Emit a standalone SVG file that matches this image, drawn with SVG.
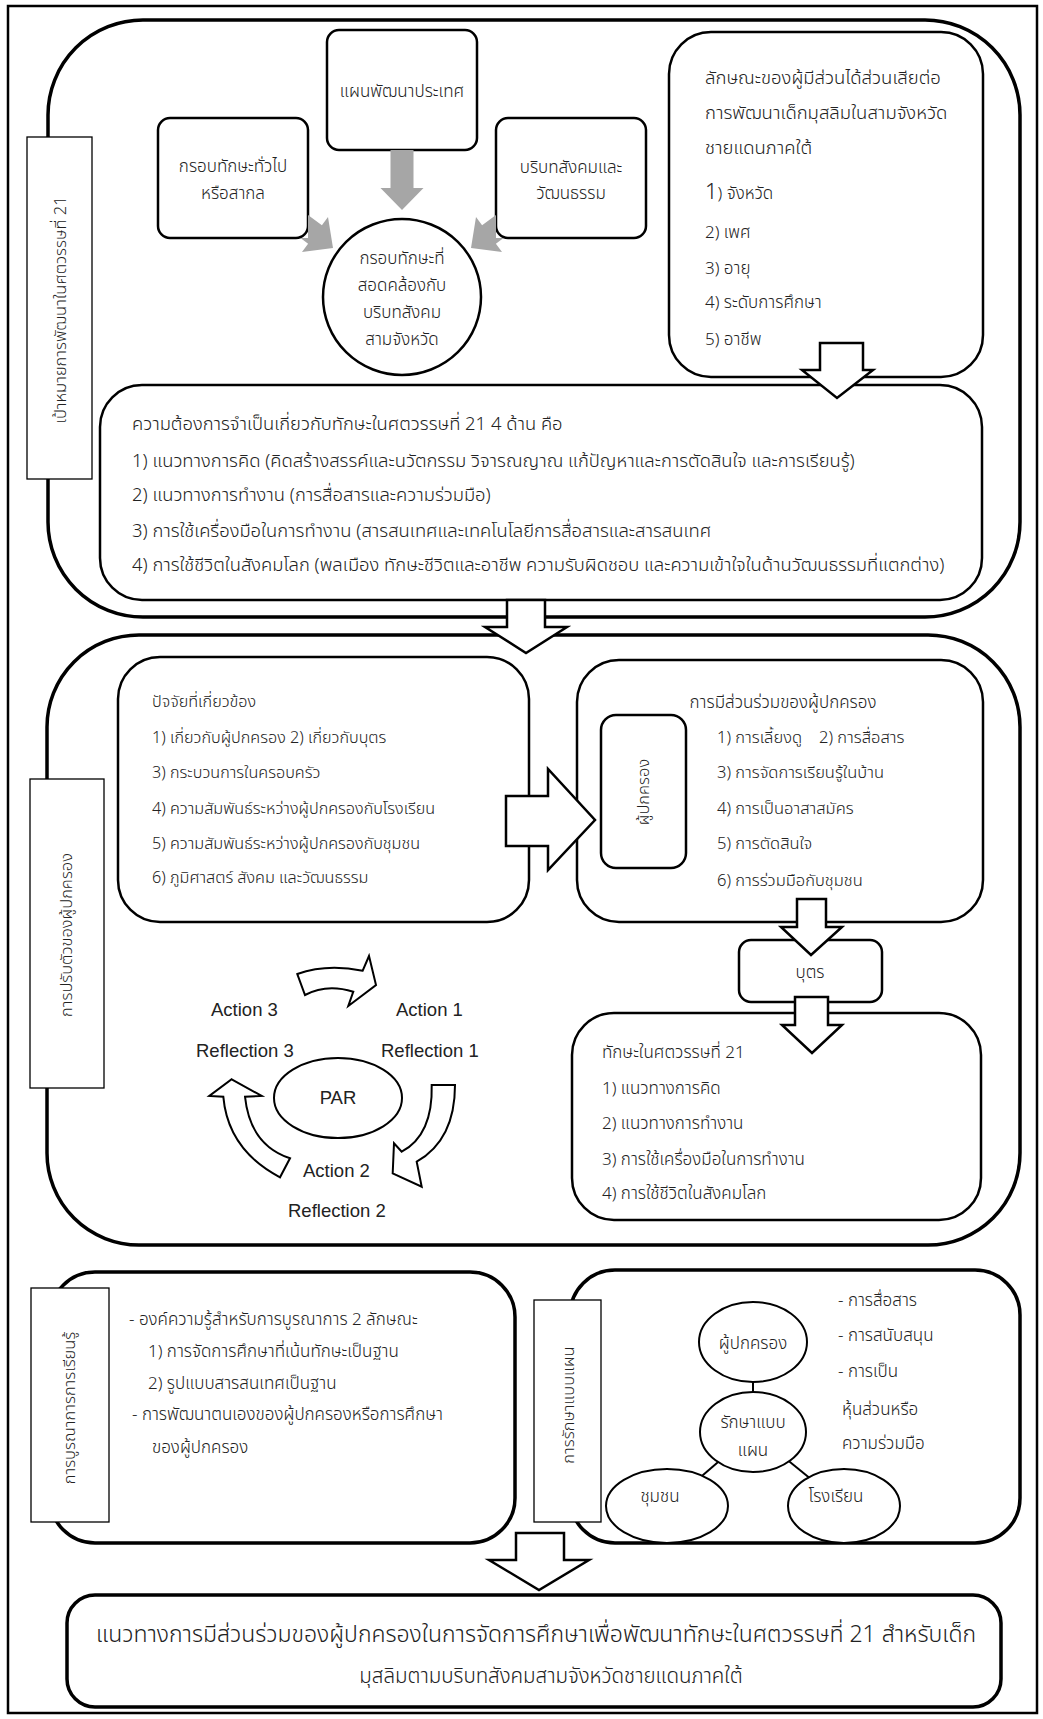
<svg xmlns="http://www.w3.org/2000/svg" width="1043" height="1719" viewBox="0 0 1043 1719">
<style>
.frame{fill:none;stroke:#000;stroke-width:2.5}
.big{fill:#fff;stroke:#000;stroke-width:3.5}
.box{fill:#fff;stroke:#000;stroke-width:2.5}
.lbl{fill:#fff;stroke:#000;stroke-width:1.3}
.arw{fill:#fff;stroke:#000;stroke-width:2.5;stroke-linejoin:miter}
.cyc{fill:#fff;stroke:#000;stroke-width:2}
.gray{fill:#a6a6a6;stroke:none}
.t{font-family:"Noto Sans Thai","Noto Sans Thai UI","Noto Sans","DejaVu Sans",sans-serif;font-size:17px;font-weight:300;fill:#222}
.c{text-anchor:middle}
.v{font-size:16.5px}
.sk{font-size:18.5px}
.nd{font-size:18.4px}
.fc{font-size:16.2px}
.pt{font-size:16.5px}
.en{font-family:"Liberation Sans",Arial,sans-serif;font-size:18.5px;fill:#222}
.fin{font-size:23px}
.fin2{font-size:20.5px}
</style>
<rect width="1043" height="1719" fill="#fff"/>
<rect class="frame" x="8" y="6" width="1029" height="1707"/>

<g id="section-goals">
<rect class="big" x="48" y="20" width="972" height="597" rx="95" ry="95"/>
</g>
<g id="node-general">
<rect class="box" x="158" y="118" width="150" height="120" rx="12"/>
<text class="t c" x="233" y="172">กรอบทักษะทั่วไป</text>
<text class="t c" x="233" y="199">หรือสากล</text>
</g>
<g id="node-plan">
<rect class="box" x="327" y="30" width="150" height="120" rx="12"/>
<text class="t c" x="402" y="97" font-size="18">แผนพัฒนาประเทศ</text>
</g>
<g id="node-context">
<rect class="box" x="496" y="118" width="150" height="120" rx="12"/>
<text class="t c" x="571" y="173">บริบทสังคมและ</text>
<text class="t c" x="571" y="199">วัฒนธรรม</text>
</g>
<g id="node-framework">
<ellipse class="box" cx="402" cy="297" rx="79" ry="78"/>
<text class="t c" x="402" y="264">กรอบทักษะที่</text>
<text class="t c" x="402" y="291">สอดคล้องกับ</text>
<text class="t c" x="402" y="318">บริบทสังคม</text>
<text class="t c" x="402" y="345">สามจังหวัด</text>
</g>
<g id="node-stakeholders">
<rect class="box" x="669" y="32" width="314" height="345" rx="42"/>
<text class="t sk" x="705" y="84">ลักษณะของผู้มีส่วนได้ส่วนเสียต่อ</text>
<text class="t sk" x="705" y="119">การพัฒนาเด็กมุสลิมในสามจังหวัด</text>
<text class="t sk" x="705" y="154">ชายแดนภาคใต้</text>
<text class="t" x="705" y="199"><tspan font-size="22">1</tspan>) จังหวัด</text>
<text class="t" x="705" y="238">2) เพศ</text>
<text class="t" x="705" y="274">3) อายุ</text>
<text class="t" x="705" y="308">4) ระดับการศึกษา</text>
<text class="t" x="705" y="345">5) อาชีพ</text>
</g>
<g id="node-needs">
<rect class="box" x="100" y="385" width="882" height="215" rx="42"/>
<text class="t nd" x="132" y="430">ความต้องการจำเป็นเกี่ยวกับทักษะในศตวรรษที่ 21 4 ด้าน คือ</text>
<text class="t nd" x="132" y="467">1) แนวทางการคิด (คิดสร้างสรรค์และนวัตกรรม วิจารณญาณ แก้ปัญหาและการตัดสินใจ และการเรียนรู้)</text>
<text class="t nd" x="132" y="501">2) แนวทางการทำงาน (การสื่อสารและความร่วมมือ)</text>
<text class="t nd" x="132" y="537">3) การใช้เครื่องมือในการทำงาน (สารสนเทศและเทคโนโลยีการสื่อสารและสารสนเทศ</text>
<text class="t nd" x="132" y="571">4) การใช้ชีวิตในสังคมโลก (พลเมือง ทักษะชีวิตและอาชีพ ความรับผิดชอบ และความเข้าใจในด้านวัฒนธรรมที่แตกต่าง)</text>
</g>
<g id="label-goals">
<rect class="lbl" x="27" y="137" width="65" height="342"/>
<text class="t c v" transform="translate(66 310) rotate(-90)">เป้าหมายการพัฒนาในศตวรรษที่ 21</text>
</g>

<g id="section-adapt">
<rect class="big" x="47" y="635" width="973" height="610" rx="92" ry="92"/>
</g>
<g id="node-factors">
<rect class="box" x="118" y="657" width="411" height="265" rx="42"/>
<text class="t fc" x="152" y="707">ปัจจัยที่เกี่ยวข้อง</text>
<text class="t fc" x="152" y="743">1) เกี่ยวกับผู้ปกครอง 2) เกี่ยวกับบุตร</text>
<text class="t fc" x="152" y="778">3) กระบวนการในครอบครัว</text>
<text class="t fc" x="152" y="814">4) ความสัมพันธ์ระหว่างผู้ปกครองกับโรงเรียน</text>
<text class="t fc" x="152" y="849">5) ความสัมพันธ์ระหว่างผู้ปกครองกับชุมชน</text>
<text class="t fc" x="152" y="883">6) ภูมิศาสตร์ สังคม และวัฒนธรรม</text>
</g>
<g id="node-participation">
<rect class="box" x="577" y="660" width="406" height="262" rx="42"/>
<text class="t c" x="783" y="708">การมีส่วนร่วมของผู้ปกครอง</text>
<text class="t pt" x="717" y="743">1) การเลี้ยงดู<tspan x="819">2) การสื่อสาร</tspan></text>
<text class="t pt" x="717" y="778">3) การจัดการเรียนรู้ในบ้าน</text>
<text class="t pt" x="717" y="814">4) การเป็นอาสาสมัคร</text>
<text class="t pt" x="717" y="849">5) การตัดสินใจ</text>
<text class="t pt" x="717" y="886">6) การร่วมมือกับชุมชน</text>
</g>
<g id="node-parent">
<rect class="box" x="601" y="715" width="85" height="153" rx="15"/>
<text class="t c v" transform="translate(649 792) rotate(-90)">ผู้ปกครอง</text>
</g>
<g id="node-child">
<rect class="box" x="739" y="940" width="143" height="62" rx="12"/>
<text class="t c" x="810" y="978">บุตร</text>
</g>
<g id="node-skills">
<rect class="box" x="572" y="1013" width="409" height="207" rx="42"/>
<text class="t" x="602" y="1058">ทักษะในศตวรรษที่ 21</text>
<text class="t" x="602" y="1094">1) แนวทางการคิด</text>
<text class="t" x="602" y="1129">2) แนวทางการทำงาน</text>
<text class="t" x="602" y="1165">3) การใช้เครื่องมือในการทำงาน</text>
<text class="t" x="602" y="1199">4) การใช้ชีวิตในสังคมโลก</text>
</g>
<g id="node-par">
<ellipse class="cyc" cx="338" cy="1098" rx="64" ry="40"/>
<text class="en c" x="338" y="1104" font-size="15" fill="#333">PAR</text>
<text class="en" x="211" y="1016">Action 3</text>
<text class="en" x="396" y="1016">Action 1</text>
<text class="en" x="196" y="1057">Reflection 3</text>
<text class="en" x="381" y="1057">Reflection 1</text>
<text class="en" x="303" y="1177">Action 2</text>
<text class="en" x="288" y="1217">Reflection 2</text>
</g>
<g id="label-adapt">
<rect class="lbl" x="30" y="779" width="74" height="309"/>
<text class="t c v" transform="translate(72 935) rotate(-90)">การปรับตัวของผู้ปกครอง</text>
</g>

<g id="node-integration">
<rect class="big" x="50" y="1272" width="465" height="271" rx="45"/>
<text class="t" x="129" y="1325">- องค์ความรู้สำหรับการบูรณาการ 2 ลักษณะ</text>
<text class="t" x="148" y="1357">1) การจัดการศึกษาที่เน้นทักษะเป็นฐาน</text>
<text class="t" x="148" y="1389">2) รูปแบบสารสนเทศเป็นฐาน</text>
<text class="t" x="132" y="1420">- การพัฒนาตนเองของผู้ปกครองหรือการศึกษา</text>
<text class="t" x="152" y="1453">ของผู้ปกครอง</text>
</g>
<g id="label-integration">
<rect class="lbl" x="31" y="1288" width="78" height="234"/>
<text class="t c v" transform="translate(75 1408) rotate(-90)">การบูรณาการการเรียนรู้</text>
</g>
<g id="node-preserve">
<rect class="big" x="570" y="1270" width="450" height="273" rx="45"/>
<line x1="753" y1="1342" x2="753" y2="1432" stroke="#000" stroke-width="2"/>
<line x1="753" y1="1432" x2="667" y2="1506" stroke="#000" stroke-width="2"/>
<line x1="753" y1="1432" x2="844" y2="1506" stroke="#000" stroke-width="2"/>
<text class="t" x="838" y="1306">- การสื่อสาร</text>
<text class="t" x="838" y="1341">- การสนับสนุน</text>
<text class="t" x="838" y="1377">- การเป็น</text>
<text class="t" x="842" y="1415">หุ้นส่วนหรือ</text>
<text class="t" x="842" y="1449">ความร่วมมือ</text>
</g>
<g id="node-p-parent">
<ellipse class="cyc" cx="753" cy="1342" rx="54" ry="40"/>
<text class="t c" x="753" y="1349">ผู้ปกครอง</text>
</g>
<g id="node-p-center">
<ellipse class="cyc" cx="753" cy="1432" rx="53" ry="40"/>
<text class="t c" x="753" y="1428">รักษาแบบ</text>
<text class="t c" x="753" y="1456">แผน</text>
</g>
<g id="node-p-community">
<ellipse class="cyc" cx="667" cy="1506" rx="61" ry="37"/>
<text class="t c" x="660" y="1502">ชุมชน</text>
</g>
<g id="node-p-school">
<ellipse class="cyc" cx="844" cy="1506" rx="56" ry="37"/>
<text class="t c" x="836" y="1502">โรงเรียน</text>
</g>
<g id="label-preserve">
<rect class="lbl" x="534" y="1300" width="67" height="222"/>
<text class="t c v" transform="translate(574 1405) rotate(-90)">การรักษาแบบแผน</text>
</g>

<g id="node-final">
<rect class="big" x="67" y="1595" width="934" height="112" rx="28"/>
<text class="t c fin" x="536" y="1642">แนวทางการมีส่วนร่วมของผู้ปกครองในการจัดการศึกษาเพื่อพัฒนาทักษะในศตวรรษที่ 21 สำหรับเด็ก</text>
<text class="t c fin2" x="551" y="1683">มุสลิมตามบริบทสังคมสามจังหวัดชายแดนภาคใต้</text>
</g>

<g id="connectors">
<polygon class="gray" points="390.5,150 413.5,150 413.5,188 423.5,188 402,210 380.5,188 390.5,188"/>
<polygon class="gray" points="300.5,238 308,238 308,214.9 321.9,225.3 328,217 333,248 302,252 308.1,243.7"/>
<polygon class="gray" points="503.5,238 496,238 496,214.9 482.1,225.3 476,217 471,248 502,252 495.9,243.7"/>
<polygon class="arw" points="820,343 863,343 863,370 873,370 837,398 802,370 820,370"/>
<polygon class="arw" points="507,600 545,600 545,627 567,627 526,653 485,627 507,627"/>
<polygon class="arw" points="506,796 548,796 548,769 595,820 548,870 548,846 506,846"/>
<polygon class="arw" points="797,899 826,899 826,927 842,927 811,955 781,927 797,927"/>
<polygon class="arw" points="795,997 828,997 828,1025 842,1025 812,1053 782,1025 795,1025"/>
<polygon class="arw" points="516,1533 564,1533 564,1560 589,1560 539,1590 489,1560 516,1560"/>
<path class="cyc" d="M297.3,974 Q326.7,963.3 362.7,970.7 L369,956 L376,985 L348.3,1006 L353.3,991.7 Q326.7,983.3 305,995 Z"/>
<path class="cyc" d="M431.7,1085 L455,1085 Q455,1140 416.7,1161.7 L421.7,1186.7 L392.7,1173.3 L394,1143.3 L401.7,1151.7 Q433,1135 431.7,1085 Z"/>
<path class="cyc" d="M231.7,1079.3 L261.7,1096 L245,1096.7 Q250,1145 290,1158.3 L280,1177.3 Q228,1150 223.3,1096.7 L209.3,1096 Z"/>
</g>
</svg>
